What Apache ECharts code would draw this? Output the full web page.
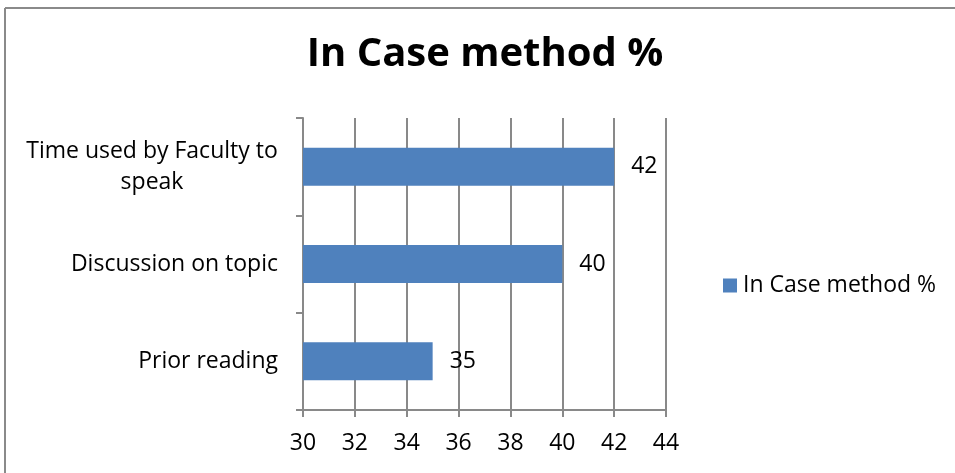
<!DOCTYPE html>
<html>
<head>
<meta charset="utf-8">
<style>
  html, body { margin: 0; padding: 0; background: #ffffff; }
  #chart { width: 955px; height: 473px; }
</style>
<script src="https://cdn.jsdelivr.net/npm/echarts@6/dist/echarts.min.js"></script>
</head>
<body>
<div id="chart"></div>
<script>
// Survey categories, bottom to top on the vertical axis
const categories = ['Prior reading', 'Discussion on topic', 'Time used by Faculty to\nspeak'];
// Share of responses for each category (%)
const caseMethodValues = [35, 40, 42];
const seriesName = 'In Case method %';
const chartTitle = 'In Case method %';

const FONT = '"Open Sans", "Liberation Sans", sans-serif';
const GRID_GRAY = '#898989';
const BAR_BLUE = '#4f81bd';
const LABEL_SIZE = 23;

const chart = echarts.init(document.getElementById('chart'), null, { renderer: 'canvas' });

chart.setOption({
  animation: false,
  backgroundColor: '#ffffff',
  title: {
    text: chartTitle,
    left: 485,
    textAlign: 'center',
    top: 35,
    padding: 0,
    textStyle: { fontFamily: FONT, fontWeight: 'bold', fontSize: 40, color: '#000000' }
  },
  legend: {
    data: [seriesName],
    left: 723,
    top: 274,
    padding: 0,
    icon: 'rect',
    itemWidth: 14,
    itemHeight: 14,
    itemGap: 6,
    textStyle: { fontFamily: FONT, fontSize: LABEL_SIZE, color: '#000000', padding: [0, 0, 0, 1] }
  },
  grid: { left: 303, right: 289, top: 118, bottom: 63, containLabel: false },
  xAxis: {
    type: 'value',
    min: 30,
    max: 44,
    interval: 2,
    axisLine: { show: true, lineStyle: { color: GRID_GRAY, width: 2 } },
    axisTick: { show: true, length: 7, lineStyle: { color: GRID_GRAY, width: 2 } },
    splitLine: { show: true, lineStyle: { color: GRID_GRAY, width: 2 } },
    axisLabel: { fontFamily: FONT, fontSize: LABEL_SIZE, color: '#000000', margin: 22 }
  },
  yAxis: {
    type: 'category',
    data: categories,
    axisLine: { show: true, onZero: false, lineStyle: { color: GRID_GRAY, width: 2 } },
    axisTick: { show: true, length: 7, lineStyle: { color: GRID_GRAY, width: 2 } },
    axisLabel: {
      fontFamily: FONT, fontSize: LABEL_SIZE, color: '#000000', margin: 25, lineHeight: 31,
      formatter: function (v) {
        if (v.indexOf('\n') >= 0) {
          return v.split('\n').map(function (s) { return '{c|' + s + '}'; }).join('\n');
        }
        return v;
      },
      rich: {
        c: { fontFamily: FONT, fontSize: LABEL_SIZE, color: '#000000', width: 252, align: 'center', lineHeight: 31 }
      }
    }
  },
  series: [{
    name: seriesName,
    type: 'bar',
    data: caseMethodValues,
    barWidth: 38,
    itemStyle: { color: BAR_BLUE },
    label: {
      show: true,
      position: 'right',
      distance: 17,
      fontFamily: FONT,
      fontSize: LABEL_SIZE,
      color: '#000000'
    }
  }],
  graphic: [
    // Frame around the chart area (top and left edges)
    { type: 'line', shape: { x1: 5, y1: 8, x2: 955, y2: 8 }, style: { stroke: '#8a8a8a', lineWidth: 2 } },
    { type: 'line', shape: { x1: 5, y1: 8, x2: 5, y2: 473 }, style: { stroke: '#8a8a8a', lineWidth: 2 } }
  ]
});
</script>
</body>
</html>
